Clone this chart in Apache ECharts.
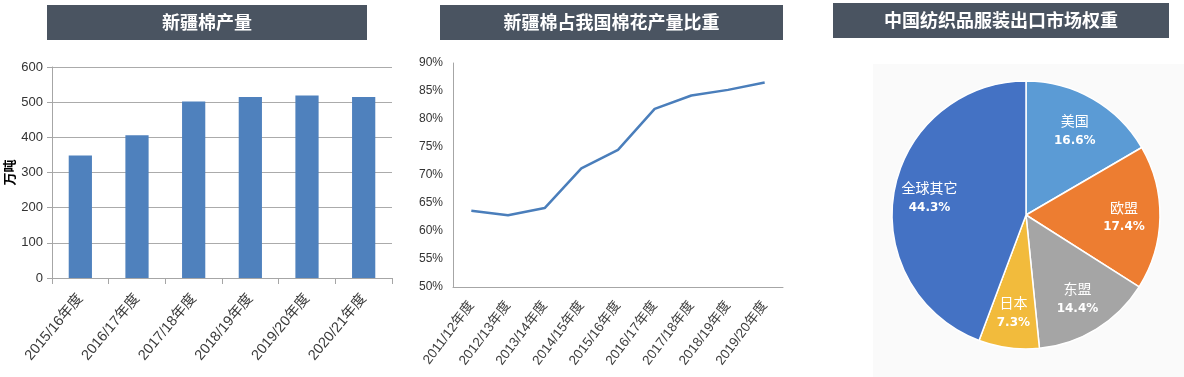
<!DOCTYPE html>
<html>
<head>
<meta charset="utf-8">
<script src="https://cdn.jsdelivr.net/npm/echarts@6/dist/echarts.min.js"></script>
<style>
  html, body { margin: 0; padding: 0; background: #fff; }
  #main { width: 1184px; height: 377px; }
</style>
</head>
<body>
<div id="main"></div>
<script>
// 新疆棉产量 (万吨)
const prodYears = ["2015/16年度", "2016/17年度", "2017/18年度", "2018/19年度", "2019/20年度", "2020/21年度"];
const prodValues = [348, 406, 502, 515, 519, 515];

// 新疆棉占我国棉花产量比重 (%)
const shareYears = ["2011/12年度", "2012/13年度", "2013/14年度", "2014/15年度", "2015/16年度",
  "2016/17年度", "2017/18年度", "2018/19年度", "2019/20年度"];
const shareValues = [63.6, 62.8, 64.1, 71.2, 74.5, 81.8, 84.2, 85.2, 86.5];

// 中国纺织品服装出口市场权重 (%)
const marketNames = ["美国", "欧盟", "东盟", "日本", "全球其它"];
const marketValues = [16.6, 17.4, 14.4, 7.3, 44.3];
const marketColors = ["#5B9BD5", "#ED7D31", "#A5A5A5", "#F2BB3C", "#4472C4"];

const titles = ["新疆棉产量", "新疆棉占我国棉花产量比重", "中国纺织品服装出口市场权重"];

const cjk = '"Noto Sans CJK SC", "Noto Sans", sans-serif';

const chart = echarts.init(document.getElementById("main"), null, { renderer: "canvas" });

function titleBox(x, y, w, h, text) {
  return {
    type: "group",
    left: x,
    top: y,
    children: [
      { type: "rect", shape: { x: 0, y: 0, width: w, height: h }, style: { fill: "#4A5461" } },
      {
        type: "text",
        x: w / 2,
        y: h / 2,
        style: {
          text: text,
          fill: "#fff",
          font: 'bold 18px ' + cjk,
          align: "center",
          verticalAlign: "middle",
        },
      },
    ],
  };
}

const option = {
  animation: false,
  textStyle: { fontFamily: cjk },
  graphic: [
    // 饼图背景
    { type: "rect", left: 873, top: 64, shape: { width: 311, height: 313 }, style: { fill: "#FAFAFA" }, z: -10 },
    titleBox(47, 5, 320, 35, titles[0]),
    titleBox(440, 5, 343, 35, titles[1]),
    titleBox(833, 3, 336, 35, titles[2]),
  ],
  grid: [
    { left: 52, top: 67, width: 340, height: 211 },
    { left: 453, top: 63, width: 330, height: 224 },
  ],
  xAxis: [
    {
      gridIndex: 0,
      type: "category",
      data: prodYears,
      axisLine: { lineStyle: { color: "#A6A6A6" } },
      axisTick: { show: true, length: 6, lineStyle: { color: "#A6A6A6" } },
      axisLabel: {
        rotate: 50,
        interval: 0,
        color: "#3A3A3A",
        fontSize: 14.5,
        margin: 18,
        fontFamily: '"Liberation Sans", ' + cjk,
      },
    },
    {
      gridIndex: 1,
      type: "category",
      data: shareYears,
      axisLine: { lineStyle: { color: "#A6A6A6" } },
      axisTick: { show: false },
      axisLabel: {
        rotate: 53,
        interval: 0,
        color: "#404040",
        fontSize: 13.5,
        margin: 16,
        fontFamily: '"Liberation Sans Narrow", "Liberation Sans", ' + cjk,
      },
    },
  ],
  yAxis: [
    {
      gridIndex: 0,
      type: "value",
      min: 0,
      max: 600,
      interval: 100,
      name: "万吨",
      nameLocation: "middle",
      nameGap: 36,
      nameRotate: 90,
      nameTextStyle: { color: "#000", fontSize: 13, fontWeight: "bold", padding: [0, 0, 0, 0] },
      axisLine: { show: true, lineStyle: { color: "#A6A6A6" } },
      axisTick: { show: true, length: 5, lineStyle: { color: "#A6A6A6" } },
      axisLabel: { color: "#333", fontSize: 13, margin: 9, fontFamily: '"Liberation Sans", sans-serif' },
      splitLine: { lineStyle: { color: "#ABABAB" } },
    },
    {
      gridIndex: 1,
      type: "value",
      min: 50,
      max: 90,
      interval: 5,
      axisLine: { show: true, lineStyle: { color: "#A6A6A6" } },
      axisTick: { show: false },
      axisLabel: {
        color: "#333",
        fontSize: 12,
        margin: 10,
        formatter: "{value}%",
        fontFamily: '"Liberation Sans Narrow", "Liberation Sans", sans-serif',
      },
      splitLine: { show: false },
    },
  ],
  series: [
    {
      type: "bar",
      xAxisIndex: 0,
      yAxisIndex: 0,
      data: prodValues,
      barWidth: "41%",
      itemStyle: { color: "#4F81BD" },
    },
    {
      type: "line",
      xAxisIndex: 1,
      yAxisIndex: 1,
      data: shareValues,
      symbol: "none",
      lineStyle: { color: "#4A7EBB", width: 2.5 },
    },
    {
      // 扇区
      type: "pie",
      center: [1026, 215],
      radius: [0, 134],
      startAngle: 90,
      clockwise: true,
      silent: true,
      label: { show: false },
      labelLine: { show: false },
      itemStyle: { borderColor: "#fff", borderWidth: 1.5 },
      data: marketNames.map((n, i) => ({ name: n, value: marketValues[i], itemStyle: { color: marketColors[i] } })),
    },
    {
      // 标签 (透明扇区, 让标签靠外)
      type: "pie",
      center: [1026, 215],
      radius: [0, 190],
      startAngle: 90,
      clockwise: true,
      silent: true,
      itemStyle: { color: "rgba(0,0,0,0)" },
      labelLine: { show: false },
      label: {
        show: true,
        position: "inside",
        formatter: "{n|{b}}\n{p|{c}%}",
        rich: {
          n: { color: "#fff", fontSize: 14, fontFamily: cjk, lineHeight: 21 },
          p: { color: "#fff", fontSize: 12, fontWeight: "bold", fontFamily: '"DejaVu Sans", sans-serif', lineHeight: 19 },
        },
      },
      data: marketNames.map((n, i) => ({ name: n, value: marketValues[i] })),
    },
  ],
};

chart.setOption(option);
</script>
</body>
</html>
